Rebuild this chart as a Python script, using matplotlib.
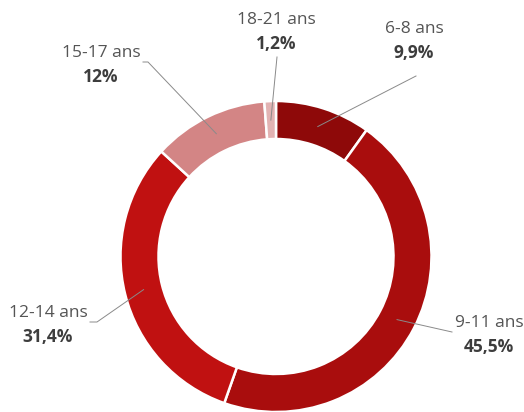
import numpy as np
import matplotlib.pyplot as plt

plt.rcParams['font.family'] = ['Open Sans', 'DejaVu Sans']

categories = ['6-8 ans', '9-11 ans', '12-14 ans', '15-17 ans', '18-21 ans']
shares = [9.9, 45.5, 31.4, 12.0, 1.2]
colors = ['#8E0909', '#A90D0D', '#C01111', '#D38585', '#E2B3B3']

# label anchor (pixels, top-down), and elbow of the leader line
label_pos = {
    '6-8 ans': (414, 29, None),
    '9-11 ans': (489, 323, (452, 332)),
    '12-14 ans': (48, 313, (90, 322)),
    '15-17 ans': (101, 53, (143, 62)),
    '18-21 ans': (276, 20, None),
}
line_start = {
    '6-8 ans': (416, 76),
    '9-11 ans': (452, 332),
    '12-14 ans': (90, 322),
    '15-17 ans': (143, 62),
    '18-21 ans': (277, 57),
}

W, H = 524, 412
cx, cy, R = 276, 256.5, 155.5
width = 38

fig = plt.figure(figsize=(W / 100, H / 100), dpi=100)
ax = fig.add_axes([0, 0, 1, 1])
ax.set_xlim(0, W)
ax.set_ylim(0, H)
ax.axis('off')

ax.pie(shares, colors=colors, startangle=90, counterclock=False,
       center=(cx, H - cy), radius=R, frame=True,
       wedgeprops=dict(width=width, edgecolor='white', linewidth=1.8))
ax.set_xlim(0, W)
ax.set_ylim(0, H)
ax.set_aspect('equal')
ax.axis('off')


def fmt(v):
    s = ('%.1f' % v).replace('.', ',')
    if s.endswith(',0'):
        s = s[:-2]
    return s + '%'


cum = 0
rmid = R - width / 2
for cat, v in zip(categories, shares):
    mid = np.deg2rad(90 - (cum + v / 2) * 3.6)
    cum += v
    ex = cx + rmid * np.cos(mid)
    ey = cy - rmid * np.sin(mid)
    lx, ly, elbow = label_pos[cat]
    sx, sy = line_start[cat]
    xs, ys = [sx], [sy]
    if cat == '12-14 ans':
        xs, ys = [90, 97], [322, 322]
    elif cat == '15-17 ans':
        xs, ys = [143, 148], [62, 62]
    xs.append(ex)
    ys.append(ey)
    ax.plot(xs, [H - y for y in ys], color='#8a8a8a', lw=0.7)
    ax.text(lx, H - ly, cat, ha='center', va='center', fontsize=12.5,
            color='#555555')
    ax.text(lx, H - ly - 24, fmt(v), ha='center', va='center', fontsize=12.5,
            color='#3d3d3d', fontweight='bold')

fig.savefig('out.png', dpi=100)
